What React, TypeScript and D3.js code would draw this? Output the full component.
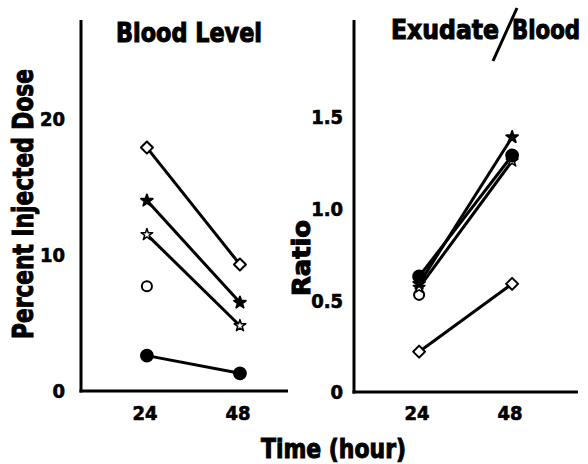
import React from "react";
import * as d3 from "d3";

const times = [24, 48];
const bloodTicks = [0, 10, 20];
const ratioTicks = [0, 0.5, 1.0, 1.5];
const ratioTickLabels = ["0", "0.5", "1.0", "1.5"];

// Blood level (percent injected dose)
const bloodOpenDiamond = [17.9, 9.3];
const bloodFilledStar = [14.0, 6.5];
const bloodOpenStar = [11.5, 4.8];
const bloodOpenCircle = [7.7];
const bloodFilledCircle = [2.6, 1.3];

// Exudate/Blood ratio
const ratioOpenDiamond = [0.22, 0.59];
const ratioFilledStar = [0.59, 1.39];
const ratioOpenStar = [0.57, 1.26];
const ratioOpenCircle = [0.53];
const ratioFilledCircle = [0.63, 1.29];

type Marker = "openDiamond" | "filledStar" | "openStar" | "openCircle" | "filledCircle";

const FONT = "'DejaVu Sans Condensed', 'DejaVu Sans', sans-serif";

function symbolPath(m: Marker): string {
  if (m === "openDiamond") return d3.symbol(d3.symbolSquare, 72)()!;
  if (m === "filledStar" || m === "openStar") return d3.symbol(d3.symbolStar, 42)()!;
  if (m === "filledCircle") return d3.symbol(d3.symbolCircle, 110)()!;
  return d3.symbol(d3.symbolCircle, 80)()!;
}

function MarkerShape({ m, x, y }: { m: Marker; x: number; y: number }) {
  const filled = m === "filledStar" || m === "filledCircle";
  const rot = m === "openDiamond" ? 45 : 0;
  return (
    <path
      d={symbolPath(m)}
      transform={`translate(${x},${y}) rotate(${rot})`}
      fill={filled ? "#000" : "#fff"}
      stroke="#000"
      strokeWidth={m === "openStar" ? 1.5 : 2}
      strokeLinejoin="round"
    />
  );
}

function Panel({
  xs,
  ys,
  series,
  ticks,
  tickLabels,
  labelRight,
}: {
  xs: d3.ScaleLinear<number, number>;
  ys: d3.ScaleLinear<number, number>;
  series: { m: Marker; v: number[] }[];
  ticks: number[];
  tickLabels: string[];
  labelRight: number;
}) {
  const [x0, x1] = xs.range();
  const y0 = ys(0);
  const line = d3
    .line<number>()
    .x((_, i) => xs(times[i]))
    .y((d) => ys(d));
  return (
    <g>
      <line x1={x0} y1={20} x2={x0} y2={y0 + 1.5} stroke="#000" strokeWidth={3} />
      <line x1={x0 - 1.5} y1={y0} x2={x1} y2={y0} stroke="#000" strokeWidth={3} />
      {ticks.map((t, i) => (
        <text
          key={i}
          x={labelRight}
          y={ys(t)}
          dy="0.36em"
          textAnchor="end"
          fontFamily={FONT}
          fontWeight="bold"
          fontSize={20}
          stroke="#000"
          strokeWidth={0.6}
        >
          {tickLabels[i]}
        </text>
      ))}
      {times.map((t, i) => (
        <text
          key={i}
          x={xs(t) - 2}
          y={413}
          dy="0.36em"
          textAnchor="middle"
          fontFamily={FONT}
          fontWeight="bold"
          fontSize={20}
          stroke="#000"
          strokeWidth={0.6}
        >
          {t}
        </text>
      ))}
      {series
        .filter((s) => s.v.length > 1)
        .map((s, i) => (
          <path key={i} d={line(s.v)!} fill="none" stroke="#000" strokeWidth={3} />
        ))}
      {series.map((s, i) =>
        s.v.map((v, j) => <MarkerShape key={`${i}-${j}`} m={s.m} x={xs(times[j])} y={ys(v)} />)
      )}
    </g>
  );
}

export default function App() {
  const xLeft = d3.scaleLinear().domain([7, 60.4]).range([81, 288]);
  const yLeft = d3.scaleLinear().domain([0, 20]).range([391, 119]);
  const xRight = d3.scaleLinear().domain([7.2, 65]).range([354, 578]);
  const yRight = d3.scaleLinear().domain([0, 1.5]).range([392, 117]);

  const leftSeries: { m: Marker; v: number[] }[] = [
    { m: "openDiamond", v: bloodOpenDiamond },
    { m: "filledStar", v: bloodFilledStar },
    { m: "openStar", v: bloodOpenStar },
    { m: "openCircle", v: bloodOpenCircle },
    { m: "filledCircle", v: bloodFilledCircle },
  ];
  const rightSeries: { m: Marker; v: number[] }[] = [
    { m: "openDiamond", v: ratioOpenDiamond },
    { m: "openCircle", v: ratioOpenCircle },
    { m: "openStar", v: ratioOpenStar },
    { m: "filledCircle", v: ratioFilledCircle },
    { m: "filledStar", v: ratioFilledStar },
  ];

  const heavy = { fontFamily: FONT, fontWeight: "bold" as const, stroke: "#000", strokeWidth: 1 };

  return (
    <svg
      width={588}
      height={464}
      style={{ position: "absolute", left: 0, top: 0, background: "#fff" }}
    >
      <rect width={588} height={464} fill="#fff" />
      <Panel
        xs={xLeft}
        ys={yLeft}
        series={leftSeries}
        ticks={bloodTicks}
        tickLabels={bloodTicks.map(String)}
        labelRight={65}
      />
      <Panel
        xs={xRight}
        ys={yRight}
        series={rightSeries}
        ticks={ratioTicks}
        tickLabels={ratioTickLabels}
        labelRight={343}
      />
      <text x={116} y={42} {...heavy} fontSize={26} textLength={146} lengthAdjust="spacingAndGlyphs">
        Blood Level
      </text>
      <text x={391} y={39} {...heavy} fontSize={26} textLength={108} lengthAdjust="spacingAndGlyphs">
        Exudate
      </text>
      <line x1={493} y1={61} x2={517} y2={8} stroke="#000" strokeWidth={3} />
      <text x={512} y={39} {...heavy} fontSize={26} textLength={68} lengthAdjust="spacingAndGlyphs">
        Blood
      </text>
      <text
        transform="translate(33,204) rotate(-90)"
        textAnchor="middle"
        {...heavy}
        fontSize={28}
        textLength={270}
        lengthAdjust="spacingAndGlyphs"
      >
        Percent Injected Dose
      </text>
      <text
        transform="translate(310,258) rotate(-90)"
        textAnchor="middle"
        {...heavy}
        fontSize={24}
        textLength={76}
        lengthAdjust="spacingAndGlyphs"
      >
        Ratio
      </text>
      <text x={261} y={458} {...heavy} fontSize={27} textLength={145} lengthAdjust="spacingAndGlyphs">
        Time (hour)
      </text>
    </svg>
  );
}
